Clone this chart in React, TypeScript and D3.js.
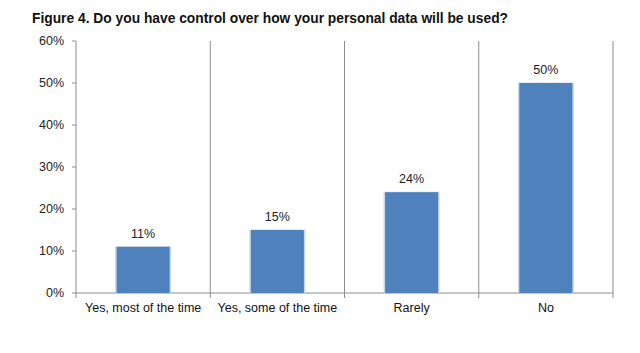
import React from "react";
import * as d3 from "d3";

const title = "Figure 4. Do you have control over how your personal data will be used?";
const categories = ["Yes, most of the time", "Yes, some of the time", "Rarely", "No"];
const values = [11, 15, 24, 50];
const yTicks = [0, 10, 20, 30, 40, 50, 60];

const W = 640;
const H = 353;
const left = 76;
const right = 613;
const top = 41;
const bottom = 293;

export default function App() {
  const x = d3.scaleBand<string>().domain(categories).range([left, right]).paddingInner(0).paddingOuter(0);
  const y = d3.scaleLinear().domain([0, 60]).range([bottom, top]);
  const bw = x.bandwidth() * 0.395;
  const font = "'Liberation Sans', Arial, Helvetica, sans-serif";
  const gridColor = "#8c8c8c";
  const separators = categories.map((c) => (x(c) as number) + x.bandwidth());

  return (
    <svg width={W} height={H} style={{ position: "absolute", left: 0, top: 0, background: "#fff" }} fontFamily={font}>
      <rect x={0} y={0} width={W} height={H} fill="#fff" />
      <text x={32} y={23} fontSize={15} fontWeight="bold" fill="#111" textLength={476} lengthAdjust="spacingAndGlyphs">
        {title}
      </text>
      {/* vertical separators */}
      {separators.map((sx, i) => (
        <line key={i} x1={sx} x2={sx} y1={top} y2={bottom + 5} stroke={gridColor} strokeWidth={1} />
      ))}
      {/* y axis */}
      <line x1={left} x2={left} y1={top} y2={bottom} stroke={gridColor} strokeWidth={1} />
      {yTicks.map((t) => (
        <g key={t}>
          <line x1={left - 4} x2={left} y1={y(t)} y2={y(t)} stroke={gridColor} />
          <text x={64} y={y(t)} dy="0.35em" textAnchor="end" fontSize={12.5} fill="#222">
            {t}%
          </text>
        </g>
      ))}
      {/* x axis */}
      <line x1={left} x2={right} y1={bottom} y2={bottom} stroke={gridColor} strokeWidth={1} />
      <line x1={left} x2={left} y1={bottom} y2={bottom + 5} stroke={gridColor} />
      {/* bars */}
      {categories.map((c, i) => {
        const cx = (x(c) as number) + x.bandwidth() / 2;
        const bx = cx - bw / 2;
        const by = y(values[i]);
        return (
          <g key={c}>
            <rect x={bx - 1.5} y={by - 0.5} width={bw + 3} height={bottom - by + 0.5} fill="#c9d7ea" />
            <rect x={bx} y={by} width={bw} height={bottom - by} fill="#4f81bd" />
            <text x={cx} y={by - 9} textAnchor="middle" fontSize={12.5} fill="#222">
              {values[i]}%
            </text>
            <text x={cx} y={312} textAnchor="middle" fontSize={12.5} fill="#111">
              {c}
            </text>
          </g>
        );
      })}
    </svg>
  );
}
